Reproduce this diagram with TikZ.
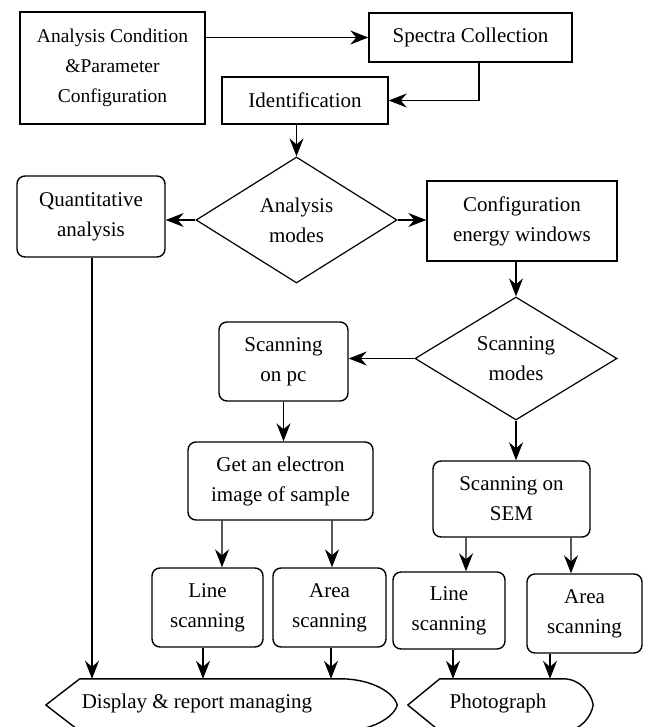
\documentclass[tikz,border=0pt]{standalone}
\usepackage{fontspec}
\setmainfont{Liberation Serif}
\usetikzlibrary{shapes.geometric,arrows.meta}
\begin{document}
\begin{tikzpicture}[x=1bp,y=-1bp,
  every node/.style={font=\fontsize{21bp}{30bp}\selectfont, align=center, inner sep=0pt},
  sqbox/.style={draw, line width=1.4bp, rectangle},
  rbox/.style={draw, line width=1.4bp, rectangle, rounded corners=8bp},
  dmd/.style={draw, line width=1.2bp, diamond, inner sep=0pt},
  arr/.style={line width=1.2bp, -{Stealth[length=18bp,width=14bp,inset=6bp]}},
  outl/.style={draw, line width=1.4bp, line join=round},
  ghost/.style={draw=none, rectangle}
]
\useasboundingbox (0,0) rectangle (648,727);

% top row
\node[sqbox, minimum width=185bp, minimum height=112bp, font=\fontsize{19.5bp}{30bp}\selectfont] (acp) at (112.5,68) {Analysis Condition\\\&Parameter\\Configuration};
\node[sqbox, minimum width=203bp, minimum height=49bp] (spec) at (470.5,37.5) {Spectra Collection};
\node[sqbox, minimum width=166bp, minimum height=47bp] (ident) at (305,100.5) {Identification};

% analysis modes
\node[dmd, minimum width=201bp, minimum height=126bp] (am) at (296.5,220) {Analysis\\modes};
\node[rbox, minimum width=148bp, minimum height=81bp] (qa) at (91,216.5) {Quantitative\\analysis};
\node[sqbox, minimum width=190bp, minimum height=80bp] (cew) at (522,221) {Configuration\\energy windows};

% scanning modes
\node[dmd, minimum width=202bp, minimum height=123bp] (sm) at (516,358.5) {Scanning\\modes};
\node[rbox, minimum width=129bp, minimum height=79bp] (spc) at (283.5,361.5) {Scanning\\on pc};
\node[rbox, minimum width=185bp, minimum height=78bp] (gei) at (280.5,481) {Get an electron\\image of sample};
\node[rbox, minimum width=157bp, minimum height=76bp] (sem) at (511.5,499) {Scanning on\\SEM};

% scanning boxes
\node[rbox, minimum width=111bp, minimum height=79bp] (l1) at (207.5,607.5) {Line\\scanning};
\node[rbox, minimum width=113bp, minimum height=79bp] (a1) at (329.5,607.5) {Area\\scanning};
\node[rbox, minimum width=112bp, minimum height=77bp] (l2) at (449,610.5) {Line\\scanning};
\node[rbox, minimum width=115bp, minimum height=79bp] (a2) at (584.5,613.5) {Area\\scanning};

% display shapes
\node[ghost, minimum width=351bp, minimum height=52bp] (disp) at (221.5,705) {};
\node (dispt) at (197,703) {Display \& report managing};
\draw[outl] (disp.west) -- ([xshift=34bp]disp.north west) -- ([xshift=-57bp]disp.north east)
  .. controls ([xshift=-25bp]disp.north east) and ([xshift=-3bp,yshift=12bp]disp.east) .. (disp.east)
  .. controls ([xshift=-3bp,yshift=-12bp]disp.east) and ([xshift=-25bp]disp.south east) .. ([xshift=-57bp]disp.south east)
  -- ([xshift=34bp]disp.south west) -- cycle;

\node[ghost, minimum width=185bp, minimum height=52bp] (pht) at (500.5,705) {};
\node (phtt) at (498,703) {Photograph};
\draw[outl] (pht.west) -- ([xshift=32bp]pht.north west) -- ([xshift=-30bp]pht.north east)
  .. controls ([xshift=-13bp]pht.north east) and ([xshift=-2bp,yshift=12bp]pht.east) .. (pht.east)
  .. controls ([xshift=-2bp,yshift=-12bp]pht.east) and ([xshift=-13bp]pht.south east) .. ([xshift=-30bp]pht.south east)
  -- ([xshift=32bp]pht.south west) -- cycle;

% connectors
\draw[arr] (acp.east |- spec.west) -- (spec.west);
\draw[arr] ([xshift=8.5bp]spec.south) |- (ident.east);
\draw[arr] (am.north |- ident.south) -- (am.north);
\draw[arr] (am.west) -- (qa.east |- am.west);
\draw[arr] (am.east) -- (cew.west |- am.east);
\draw[arr] (sm.north |- cew.south) -- (sm.north);
\draw[arr] (sm.west) -- (spc.east |- sm.west);
\draw[arr] (spc.south) -- (spc.south |- gei.north);
\draw[arr] (sm.south) -- (sm.south |- sem.north);
\draw[arr] ([xshift=-58.5bp]gei.south) -- ([xshift=14.5bp]l1.north);
\draw[arr] ([xshift=51.5bp]gei.south) -- ([xshift=2.5bp]a1.north);
\draw[arr] ([xshift=-45.5bp]sem.south) -- ([xshift=17bp]l2.north);
\draw[arr] ([xshift=59.5bp]sem.south) -- ([xshift=-13.5bp]a2.north);
\draw[arr] ([xshift=1bp]qa.south) -- ([xshift=1bp]qa.south |- disp.north);
\draw[arr] ([xshift=-4.5bp]l1.south) -- ([xshift=-4.5bp]l1.south |- disp.north);
\draw[arr] ([xshift=1.5bp]a1.south) -- ([xshift=1.5bp]a1.south |- disp.north);
\draw[arr] ([xshift=4bp]l2.south) -- ([xshift=4bp]l2.south |- pht.north);
\draw[arr] ([xshift=-34.5bp]a2.south) -- ([xshift=-34.5bp]a2.south |- pht.north);
\end{tikzpicture}
\end{document}
